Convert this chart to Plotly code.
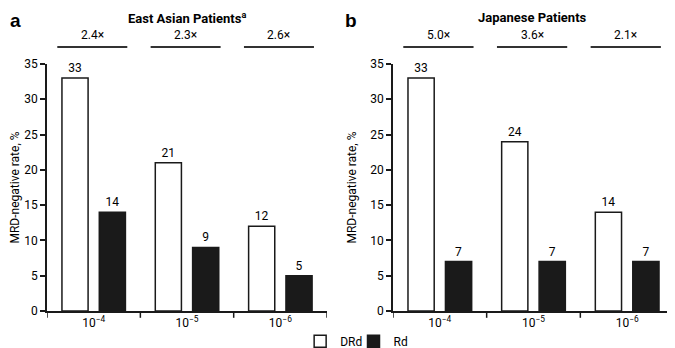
import plotly.graph_objects as go

thresholds = ["10<sup>−4</sup>", "10<sup>−5</sup>", "10<sup>−6</sup>"]
ea_drd = [33, 21, 12]
ea_rd = [14, 9, 5]
ea_fold = ["2.4×", "2.3×", "2.6×"]
jp_drd = [33, 24, 14]
jp_rd = [7, 7, 7]
jp_fold = ["5.0×", "3.6×", "2.1×"]
y_ticks = [0, 5, 10, 15, 20, 25, 30, 35]

FONT = "Roboto, Liberation Sans, Arial, sans-serif"
DARK = "#1a1a1a"

fig = go.Figure()
cats = list(range(len(thresholds)))

for i, (drd, rd, xa, ya) in enumerate([(ea_drd, ea_rd, "x", "y"), (jp_drd, jp_rd, "x2", "y2")]):
    fig.add_trace(go.Bar(x=cats, y=drd, name="DRd", xaxis=xa, yaxis=ya,
                         marker=dict(color="white", line=dict(color=DARK, width=1.5)),
                         text=[str(v) for v in drd], textposition="outside",
                         textfont=dict(size=12, color="black"), cliponaxis=False,
                         showlegend=(i == 0), legend="legend"))
    fig.add_trace(go.Bar(x=cats, y=rd, name="Rd", xaxis=xa, yaxis=ya,
                         marker=dict(color=DARK, line=dict(color=DARK, width=1.5)),
                         text=[str(v) for v in rd], textposition="outside",
                         textfont=dict(size=12, color="black"), cliponaxis=False,
                         showlegend=(i == 0), legend="legend2"))

ydom = [0.1088, 0.8353]
axis_common = dict(showline=True, linecolor=DARK, linewidth=1.5,
                   tickcolor=DARK, tickwidth=1.5, showgrid=False, zeroline=False,
                   tickfont=dict(size=12, color="black"))

legend_common = dict(orientation="h", yanchor="middle", y=0.02, xanchor="left",
                     font=dict(size=12), itemwidth=30, bgcolor="rgba(0,0,0,0)",
                     borderwidth=0)

fig.update_layout(
    width=667, height=340, margin=dict(l=0, r=0, t=0, b=0, autoexpand=False),
    paper_bgcolor="white", plot_bgcolor="white",
    font=dict(family=FONT, size=12, color="black"),
    barmode="group", bargap=0.2, bargroupgap=0.3,
    xaxis=dict(domain=[0.0585, 0.4783], range=[-0.5, 2.5], tickvals=cats, ticktext=thresholds,
               ticks="", **axis_common),
    xaxis2=dict(domain=[0.5772, 0.9985], range=[-0.5, 2.5], tickvals=cats, ticktext=thresholds,
                ticks="", **axis_common),
    yaxis=dict(domain=ydom, range=[0, 35], tickvals=y_ticks, ticks="outside", ticklen=5, anchor="x",
               title=dict(text="MRD-negative rate, %", font=dict(size=12), standoff=6),
               **axis_common),
    yaxis2=dict(domain=ydom, range=[0, 35], tickvals=y_ticks, ticks="outside", ticklen=5, anchor="x2",
                title=dict(text="MRD-negative rate, %", font=dict(size=12), standoff=11),
                **axis_common),
    legend=dict(x=0.438, **legend_common),
    legend2=dict(x=0.518, **legend_common),
)

shapes = []
annotations = []
for xa, folds in [("x", ea_fold), ("x2", jp_fold)]:
    # boundary ticks on x axis
    for b in [-0.5, 0.5, 1.5, 2.5]:
        shapes.append(dict(type="line", xref=xa, yref="paper", x0=b, x1=b,
                           y0=ydom[0], y1=ydom[0] - 0.02, line=dict(color=DARK, width=1.5)))
    for c, f in zip(cats, folds):
        shapes.append(dict(type="line", xref=xa, yref="paper", x0=c - 0.39, x1=c + 0.36,
                           y0=0.885, y1=0.885, line=dict(color="#333333", width=2)))
        annotations.append(dict(text=f, xref=xa, yref="paper", x=c - 0.015, y=0.893,
                                xanchor="center", yanchor="bottom", showarrow=False,
                                font=dict(size=12)))

annotations += [
    dict(text="<b>a</b>", xref="paper", yref="paper", x=0.0, y=1.0, xanchor="left", yanchor="top",
         showarrow=False, font=dict(size=19, family="Liberation Sans, Arial, sans-serif")),
    dict(text="<b>b</b>", xref="paper", yref="paper", x=0.502, y=1.0, xanchor="left", yanchor="top",
         showarrow=False, font=dict(size=19, family="Liberation Sans, Arial, sans-serif")),
    dict(text="<b>East Asian Patients<sup>a</sup></b>", xref="paper", yref="paper", x=0.268, y=1.0,
         xanchor="center", yanchor="top", showarrow=False, font=dict(size=13)),
    dict(text="<b>Japanese Patients</b>", xref="paper", yref="paper", x=0.786, y=1.0,
         xanchor="center", yanchor="top", showarrow=False, font=dict(size=13)),
]
fig.update_layout(shapes=shapes, annotations=annotations)

fig.write_html("out.html")
